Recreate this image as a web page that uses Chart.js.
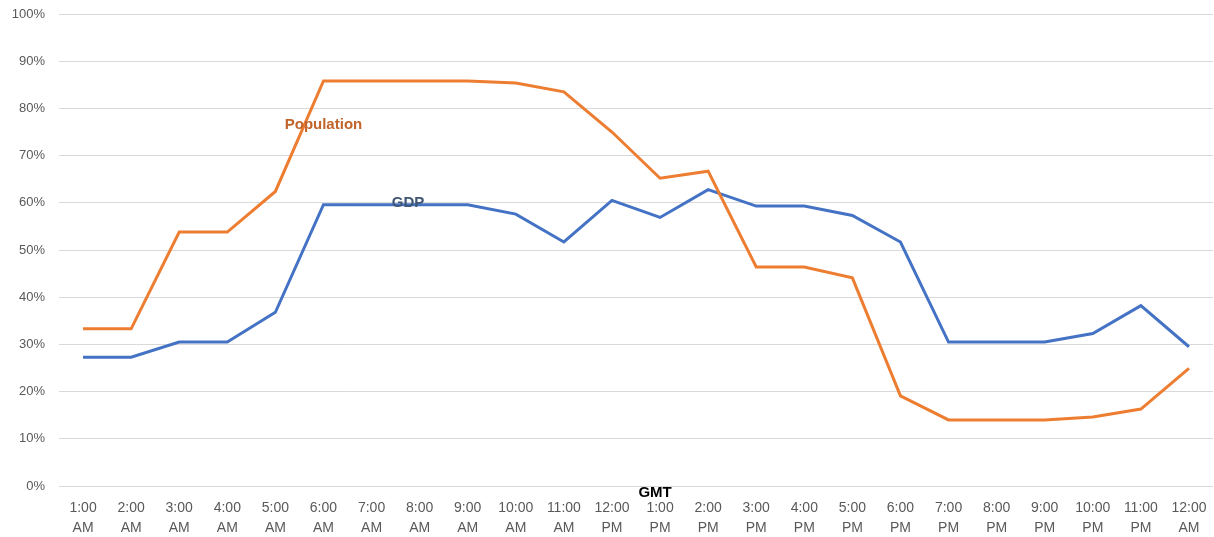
<!DOCTYPE html>
<html>
<head>
<meta charset="utf-8">
<script src="https://cdn.jsdelivr.net/npm/chart.js@4/dist/chart.umd.min.js"></script>
<style>
html,body{margin:0;padding:0;background:#fff;}
#wrap{width:1214px;height:537px;position:relative;}
</style>
</head>
<body>
<div id="wrap"><canvas id="c" width="1214" height="537"></canvas></div>
<script>
const categories = [
  ['1:00','AM'],['2:00','AM'],['3:00','AM'],['4:00','AM'],['5:00','AM'],['6:00','AM'],
  ['7:00','AM'],['8:00','AM'],['9:00','AM'],['10:00','AM'],['11:00','AM'],['12:00','PM'],
  ['1:00','PM'],['2:00','PM'],['3:00','PM'],['4:00','PM'],['5:00','PM'],['6:00','PM'],
  ['7:00','PM'],['8:00','PM'],['9:00','PM'],['10:00','PM'],['11:00','PM'],['12:00','AM']
];
const populationValues = [33.3,33.3,53.8,53.8,62.4,85.8,85.8,85.8,85.8,85.4,83.5,75.0,
  65.2,66.7,46.4,46.4,44.1,19.1,14.0,14.0,14.0,14.6,16.3,24.9];
const gdpValues = [27.3,27.3,30.5,30.5,36.8,59.6,59.6,59.6,59.6,57.6,51.7,60.5,
  56.9,62.8,59.3,59.3,57.3,51.7,30.5,30.5,30.5,32.3,38.2,29.5];
const yTicks = [0,10,20,30,40,50,60,70,80,90,100];
const seriesNames = ['Population','GDP'];
const axisTitle = 'GMT';

const labelPlugin = {
  id: 'inlineLabels',
  afterDatasetsDraw(chart) {
    const ctx = chart.ctx;
    const xs = chart.scales.x, ys = chart.scales.y;
    ctx.save();
    ctx.textAlign = 'center';
    ctx.textBaseline = 'middle';
    ctx.font = 'bold 15px "Liberation Sans", Arial, sans-serif';
    ctx.fillStyle = '#C0642A';
    ctx.fillText(seriesNames[0], xs.getPixelForValue(5), ys.getPixelForValue(76.5));
    ctx.fillStyle = '#3E5573';
    ctx.fillText(seriesNames[1], xs.getPixelForValue(6.76), ys.getPixelForValue(60));
    ctx.fillStyle = '#000';
    ctx.fillText(axisTitle, xs.getPixelForValue(12) - 5, ys.bottom + 7);
    ctx.restore();
  }
};

new Chart(document.getElementById('c'), {
  type: 'line',
  data: {
    labels: categories,
    datasets: [
      { label: seriesNames[0], data: populationValues, borderColor: '#ED7D31', backgroundColor: '#ED7D31',
        borderWidth: 3, pointRadius: 0, tension: 0, fill: false },
      { label: seriesNames[1], data: gdpValues, borderColor: '#4472C4', backgroundColor: '#4472C4',
        borderWidth: 3, pointRadius: 0, tension: 0, fill: false }
    ]
  },
  options: {
    responsive: false,
    animation: false,
    layout: { padding: { left: 0, right: 1, top: 14, bottom: 0 } },
    plugins: { legend: { display: false }, tooltip: { enabled: false } },
    scales: {
      x: {
        offset: true,
        grid: { display: false, drawTicks: false },
        border: { display: false },
        ticks: {
          color: '#595959', maxRotation: 0, autoSkip: false, padding: 12,
          font: { family: '"Liberation Sans", Arial, sans-serif', size: 14, lineHeight: 1.43 }
        },
        afterFit(scale) {
          scale.height = 51;
          scale.paddingLeft = 0; scale.paddingRight = 0; scale.paddingTop = 0; scale.paddingBottom = 0;
        }
      },
      y: {
        min: 0, max: 100,
        afterBuildTicks(scale) { scale.ticks = yTicks.map(v => ({ value: v })); },
        grid: { color: '#D9D9D9', lineWidth: 1, drawTicks: false },
        border: { display: false },
        ticks: {
          color: '#595959', padding: 14,
          font: { family: '"Liberation Sans", Arial, sans-serif', size: 13 },
          callback: v => v + '%'
        },
        afterFit(scale) {
          scale.width = 59;
          scale.paddingLeft = 0; scale.paddingRight = 0; scale.paddingTop = 0; scale.paddingBottom = 0;
        }
      }
    }
  },
  plugins: [labelPlugin]
});
</script>
</body>
</html>
